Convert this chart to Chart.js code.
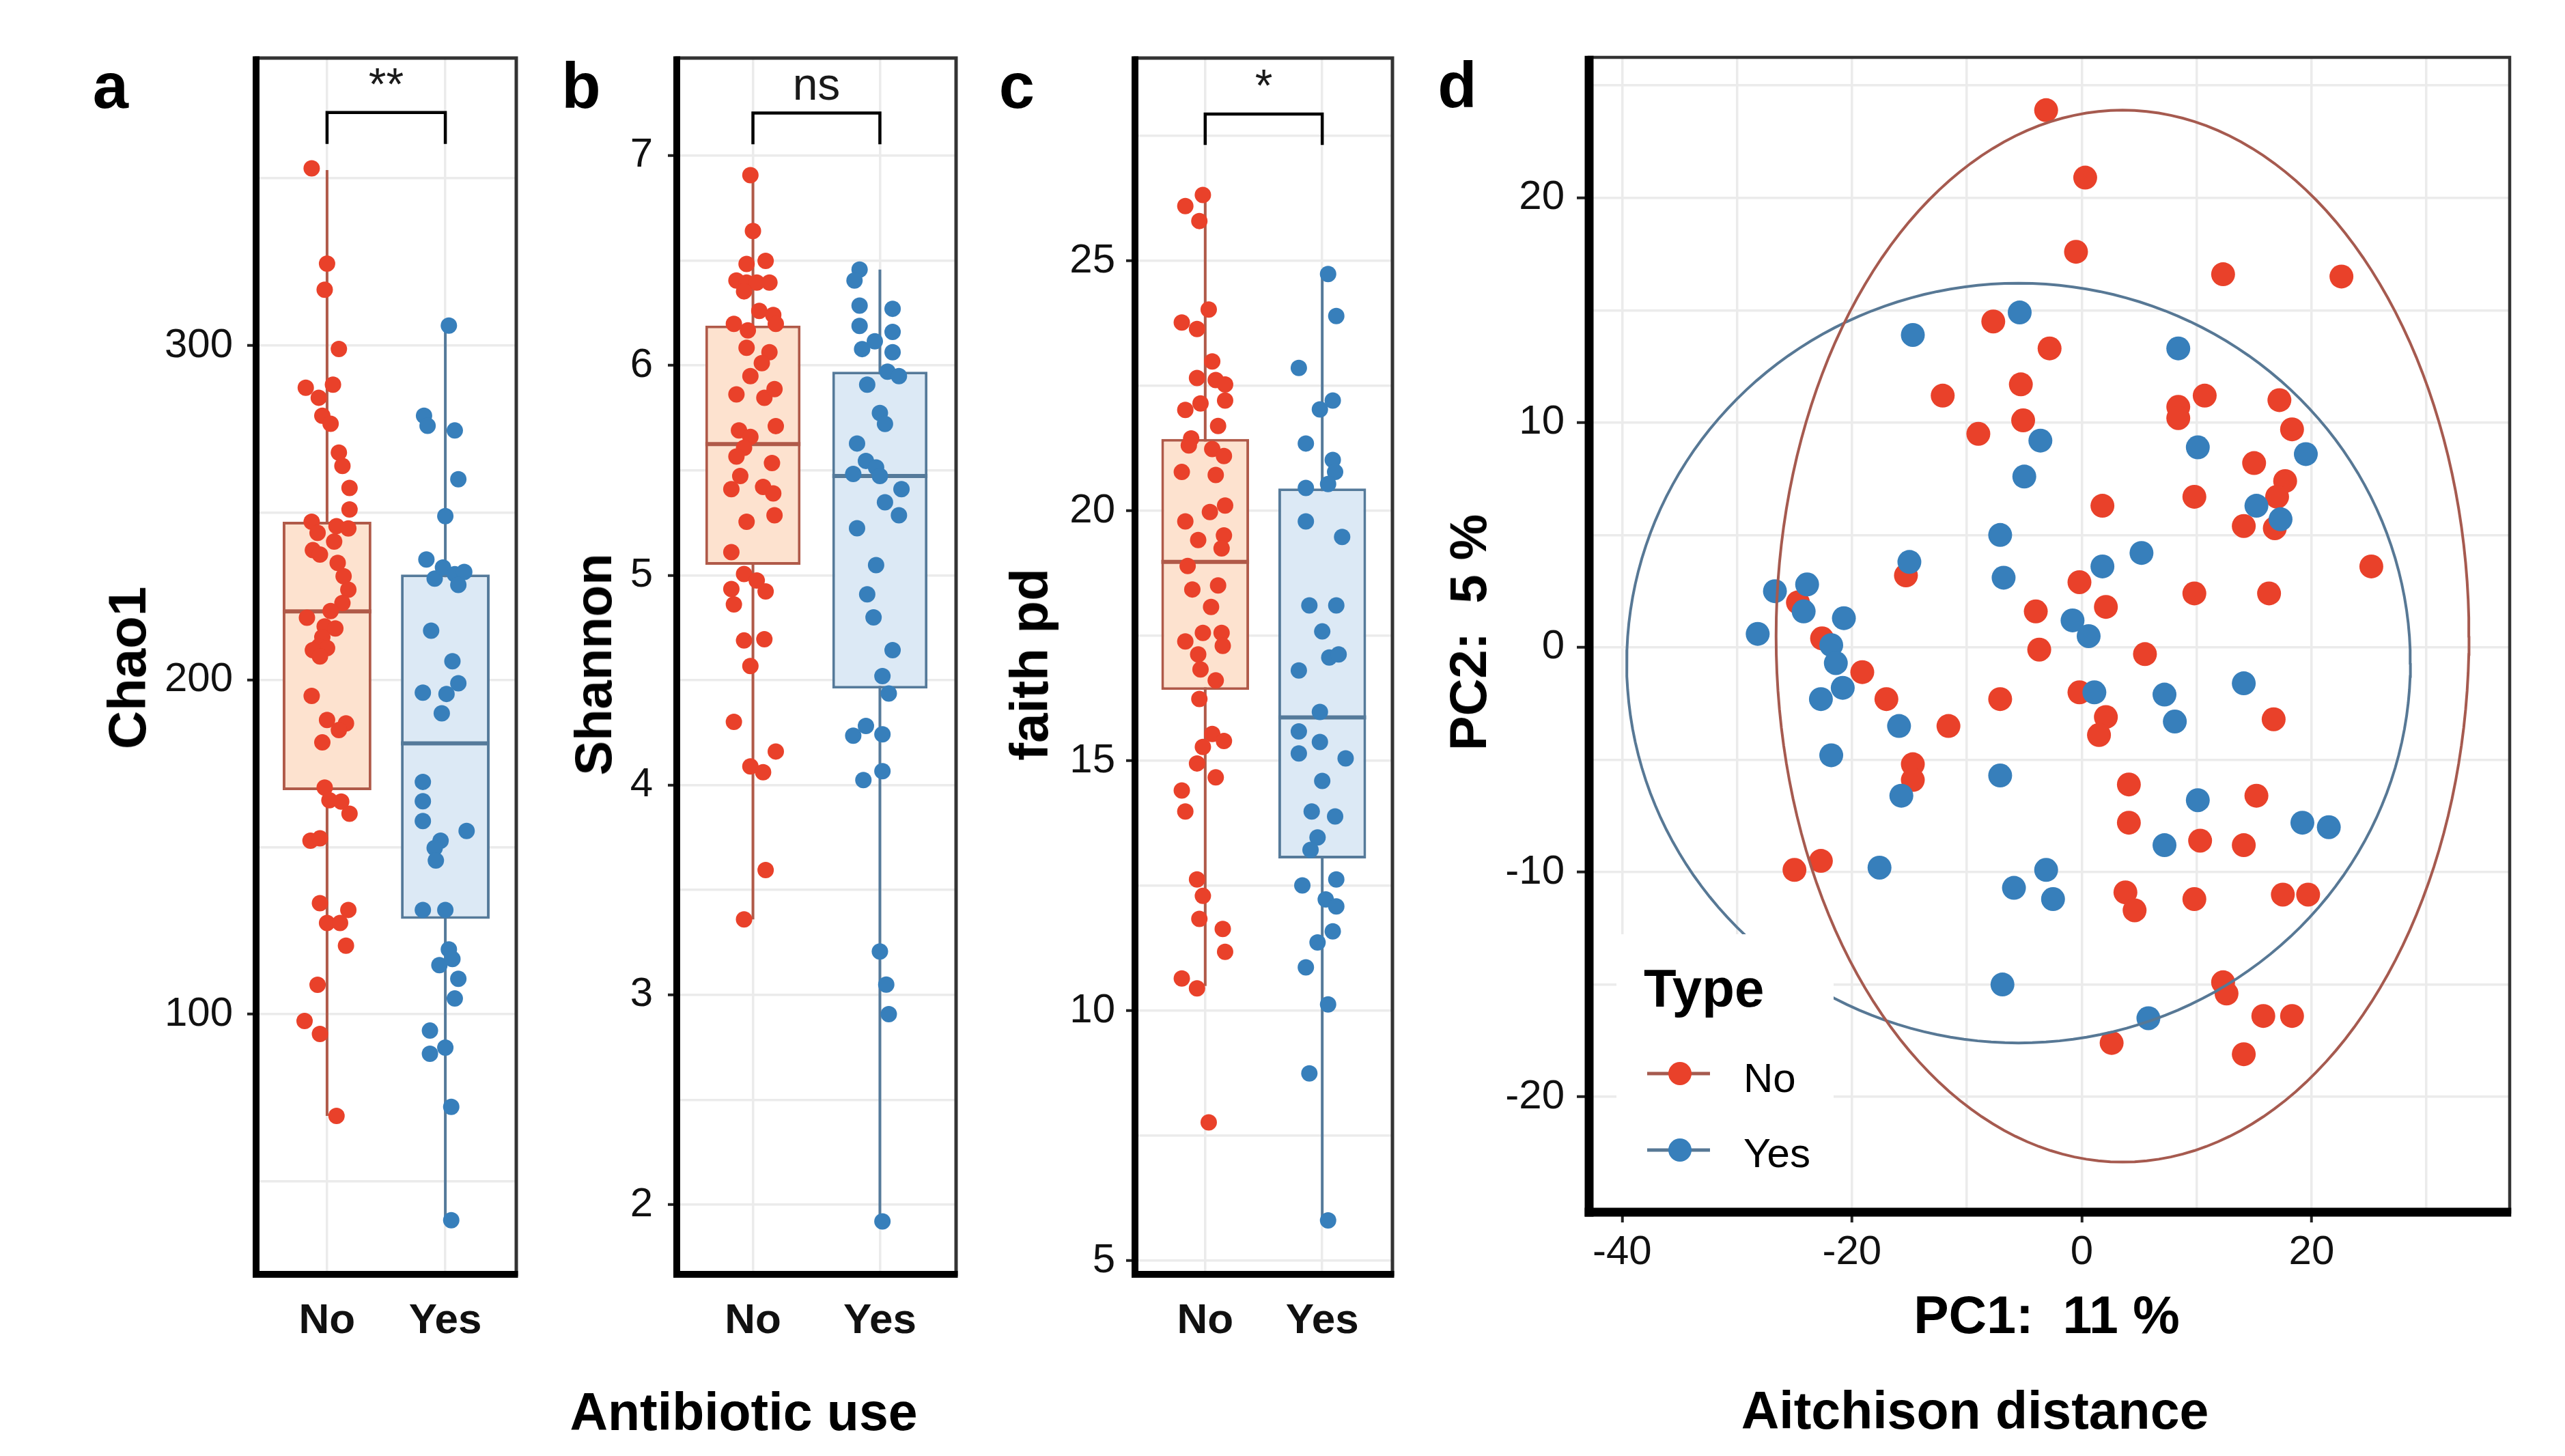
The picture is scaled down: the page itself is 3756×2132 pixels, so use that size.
<!DOCTYPE html>
<html>
<head>
<meta charset="utf-8">
<script src="https://cdn.jsdelivr.net/npm/chart.js@4.4.0/dist/chart.umd.min.js"></script>
<style>
  body { margin: 0; background: #fff; width: 3756px; height: 2132px; position: relative; overflow: hidden;
         font-family: "Liberation Sans", Arial, sans-serif; }
  canvas { position: absolute; top: 0; }
  .t { position: absolute; color: #000; white-space: pre; line-height: 1; font-weight: bold; transform: translate(-50%, -50%); }
  .r { transform: translate(-50%, -50%) rotate(-90deg); }
</style>
</head>
<body>
<canvas id="ca" width="790" height="2132" style="left:0px"></canvas>
<canvas id="cb" width="630" height="2132" style="left:790px"></canvas>
<canvas id="cc" width="640" height="2132" style="left:1420px"></canvas>
<canvas id="cd" width="1696" height="2132" style="left:2060px"></canvas>

<div class="t" style="left:162px;top:126px;font-size:94px">a</div>
<div class="t" style="left:851px;top:126px;font-size:94px">b</div>
<div class="t" style="left:1489px;top:126px;font-size:94px">c</div>
<div class="t" style="left:2134px;top:125px;font-size:94px">d</div>

<div class="t r" style="left:186px;top:978px;font-size:78px">Chao1</div>
<div class="t r" style="left:869px;top:973px;font-size:76px">Shannon</div>
<div class="t r" style="left:1507px;top:973px;font-size:78px">faith pd</div>
<div class="t r" style="left:2150px;top:926px;font-size:76px">PC2:  5 %</div>

<div class="t" style="left:1089px;top:2067px;font-size:77px">Antibiotic use</div>
<div class="t" style="left:2997px;top:1925px;font-size:77px">PC1:  11 %</div>
<div class="t" style="left:2892px;top:2065px;font-size:77px">Aitchison distance</div>

<script>
const FONT = "'Liberation Sans', Arial, sans-serif";

// groups on the discrete axis
const groups = ['No', 'Yes'];
const groupPos = [1, 2];

// panel a: Chao1, [jittered x, value]
const chaoNo = [[0.87,353],[1.0,324.5],[0.98,316.7],[1.1,299],[0.82,287.4],[1.05,288.3],[0.93,284.4],[0.96,279],[1.03,276.6],[1.1,268],
  [1.13,264],[1.19,257.4],[1.19,251],[0.87,247.3],[0.92,244],[1.08,246],[1.18,245.3],[1.06,241.4],[0.88,238.8],[0.94,237.5],
  [1.09,235],[1.14,231],[1.18,227],[1.13,223],[1.03,220.6],[0.83,218.6],[0.98,216],[1.07,215.4],[0.96,212.8],[0.93,210],
  [1.0,209.5],[0.88,208.9],[0.94,207],[0.87,195.2],[1.0,188],[1.16,187],[1.1,185],[0.96,181.3],[0.98,167.8],[1.02,164],
  [1.12,163.6],[1.19,160],[0.86,151.9],[0.94,152.6],[0.94,133.2],[1.18,131.2],[1.0,127.3],[1.11,127.3],[1.16,120.5],[0.92,108.8],
  [0.81,98],[0.94,94.1],[1.08,69.6]];
const chaoYes = [[2.03,306],[1.82,279],[1.85,276],[2.08,274.6],[2.11,260],[2.0,249],[1.84,236],[1.91,230.3],[1.98,233.6],[2.08,231.6],
  [2.16,232.3],[2.11,228.4],[1.88,214.7],[2.06,205.6],[2.11,199],[1.81,196.2],[2.01,195.8],[1.97,190],[1.81,169.5],[1.81,163.7],
  [1.81,157.8],[2.18,154.8],[1.96,151.9],[1.91,149.7],[1.92,146],[1.81,131.2],[2.0,131.2],[2.03,119.4],[1.95,114.7],[2.06,116.5],
  [2.11,110.6],[2.08,104.7],[1.87,95.1],[1.87,88.2],[2.0,90],[2.05,72.3],[2.05,38.4]];
// box stats: lower whisker, q1, median, q3, upper whisker
const chaoBoxNo = [69.6, 167, 220.5, 247.3, 352.5];
const chaoBoxYes = [38.4, 128.5, 181, 231.5, 306];
const chaoBracket = [360.3, 369.7];
const chaoTicks = [100, 200, 300];
const chaoMinor = [50, 150, 250, 350];

// panel b: Shannon
const shannonNo = [[0.98,6.907],[1.0,6.641],[0.95,6.484],[1.1,6.498],[0.87,6.405],[0.95,6.395],[1.03,6.395],[1.13,6.395],[0.93,6.353],[1.05,6.26],
  [1.16,6.24],[1.18,6.198],[0.85,6.198],[0.96,6.167],[0.95,6.084],[1.13,6.063],[1.07,6.011],[0.98,5.949],[0.87,5.862],[1.09,5.846],
  [1.17,5.887],[1.18,5.711],[0.89,5.69],[0.98,5.659],[0.93,5.607],[0.87,5.566],[1.15,5.535],[0.9,5.473],[0.83,5.41],[1.08,5.421],
  [1.16,5.39],[0.95,5.255],[1.17,5.286],[0.83,5.11],[0.93,5.006],[1.03,4.975],[1.1,4.923],[0.83,4.934],[0.85,4.861],[0.93,4.689],
  [1.09,4.695],[0.98,4.567],[0.85,4.301],[1.18,4.16],[0.98,4.089],[1.08,4.061],[1.1,3.595],[0.93,3.36]];
const shannonYes = [[1.84,6.457],[1.8,6.405],[1.84,6.285],[2.1,6.27],[1.84,6.188],[2.1,6.16],[1.86,6.078],[1.96,6.115],[2.1,6.063],[2.06,5.97],
  [2.15,5.949],[1.9,5.908],[2.0,5.773],[2.04,5.721],[1.82,5.628],[1.89,5.545],[1.97,5.514],[1.79,5.483],[2.0,5.473],[2.17,5.41],
  [2.04,5.348],[2.15,5.286],[1.82,5.224],[1.97,5.048],[1.9,4.909],[1.95,4.799],[2.1,4.643],[2.02,4.519],[2.07,4.436],[1.79,4.235],
  [1.89,4.282],[2.02,4.242],[2.02,4.066],[1.87,4.024],[2.0,3.207],[2.05,3.049],[2.07,2.908],[2.02,1.92]];
const shannonBoxNo = [3.36, 5.05, 5.625, 6.19, 6.907];
const shannonBoxYes = [1.92, 4.46, 5.473, 5.97, 6.457];
const shannonBracket = [7.054, 7.203];
const shannonTicks = [2, 3, 4, 5, 6, 7];
const shannonMinor = [2.5, 3.5, 4.5, 5.5, 6.5];

// panel c: faith pd
const faithNo = [[0.98,26.32],[0.83,26.1],[0.95,25.8],[1.03,24.03],[0.8,23.77],[0.93,23.64],[1.06,22.99],[0.93,22.66],[1.09,22.62],[1.17,22.53],
  [1.17,22.21],[0.83,22.02],[0.96,22.15],[1.11,21.7],[0.88,21.45],[0.86,21.31],[1.06,21.24],[1.16,21.1],[0.8,20.78],[1.09,20.72],
  [1.17,20.11],[1.04,19.98],[0.83,19.79],[0.94,19.42],[1.16,19.51],[1.14,19.25],[0.85,18.9],[0.89,18.43],[1.11,18.51],[1.05,18.08],
  [0.98,17.56],[0.83,17.39],[1.14,17.56],[1.15,17.3],[0.94,17.13],[0.96,16.83],[1.09,16.61],[0.95,16.24],[1.06,15.54],[1.16,15.4],
  [0.98,15.28],[0.93,14.95],[1.09,14.67],[0.8,14.41],[0.83,13.99],[0.93,12.63],[0.98,12.3],[0.95,11.84],[1.15,11.64],[1.17,11.18],
  [0.8,10.65],[0.93,10.45],[1.03,7.77]];
const faithYes = [[2.05,24.74],[2.12,23.9],[1.8,22.86],[2.09,22.21],[1.98,22.03],[1.86,21.35],[2.09,21.02],[2.11,20.78],[2.05,20.54],[1.86,20.46],
  [1.86,19.79],[2.17,19.48],[1.89,18.11],[2.12,18.11],[2.0,17.59],[1.8,16.81],[2.06,17.07],[2.14,17.13],[1.98,15.98],[1.8,15.59],
  [1.8,15.15],[1.98,15.38],[2.2,15.05],[2.0,14.6],[1.91,13.99],[2.11,13.89],[1.96,13.47],[1.9,13.22],[1.83,12.51],[2.12,12.63],
  [2.03,12.23],[2.12,12.09],[2.09,11.59],[1.96,11.37],[1.86,10.87],[2.05,10.13],[1.89,8.75],[2.05,5.81]];
const faithBoxNo = [10.5, 16.42, 18.98, 21.44, 26.4];
const faithBoxYes = [5.81, 13.05, 15.87, 20.45, 24.74];
const faithBracket = [27.32, 27.94];
const faithTicks = [5, 10, 15, 20, 25];
const faithMinor = [7.5, 12.5, 17.5, 22.5, 27.5];

// panel d: PCA on Aitchison distance, [PC1, PC2]
const pcaNo = [[-3.1,23.9],[0.3,20.9],[-0.5,17.6],[12.3,16.6],[22.6,16.5],[-7.7,14.5],[-2.8,13.3],[-12.1,11.2],[-5.3,11.7],[-5.1,10.1],
  [-9.0,9.5],[10.7,11.2],[8.4,10.7],[8.4,10.2],[17.2,11.0],[18.3,9.7],[15.0,8.2],[17.7,7.4],[17.0,6.7],[9.8,6.7],
  [14.1,5.4],[16.8,5.3],[1.8,6.3],[-15.3,3.2],[-0.2,2.9],[25.2,3.6],[9.8,2.4],[16.3,2.4],[-4.0,1.6],[2.1,1.8],
  [-24.7,2.0],[-22.6,0.4],[-3.7,-0.1],[5.5,-0.3],[-19.1,-1.1],[-17.0,-2.3],[-11.6,-3.5],[-14.7,-5.2],[-14.7,-5.9],[-7.1,-2.3],
  [-0.2,-2.0],[2.1,-3.1],[1.5,-3.9],[16.7,-3.2],[4.1,-6.1],[15.2,-6.6],[4.1,-7.8],[10.3,-8.6],[14.1,-8.8],[3.8,-10.9],
  [4.6,-11.7],[9.8,-11.2],[17.5,-11.0],[19.7,-11.0],[12.3,-14.9],[12.6,-15.4],[15.8,-16.4],[18.3,-16.4],[2.6,-17.6],[14.1,-18.1],
  [-25.0,-9.9],[-22.7,-9.5]];
const pcaYes = [[-14.7,13.9],[-5.4,14.9],[8.4,13.3],[-7.1,5.0],[-15.0,3.8],[-6.8,3.1],[-26.7,2.5],[-23.9,2.8],[-24.2,1.6],[-20.7,1.3],
  [-28.2,0.6],[-21.8,0.1],[-21.4,-0.7],[-20.8,-1.8],[-22.7,-2.3],[-15.9,-3.5],[-21.8,-4.8],[-15.7,-6.6],[-7.1,-5.7],[-17.6,-9.8],
  [-6.9,-15.0],[-3.6,9.2],[-5.0,7.6],[10.1,8.9],[19.5,8.6],[15.2,6.3],[17.3,5.7],[5.2,4.2],[1.8,3.6],[-0.8,1.2],
  [0.6,0.5],[1.1,-2.0],[7.2,-2.1],[14.1,-1.6],[8.1,-3.3],[10.1,-6.8],[19.2,-7.8],[21.5,-8.0],[7.2,-8.8],[-3.1,-9.9],
  [-5.9,-10.7],[-2.5,-11.2],[5.8,-16.5]];
// 95% ellipses: centre x, centre y, half-width, half-height
const ellipseNo = [3.55, 0.5, 30.15, 23.4];
const ellipseYes = [-5.5, -0.7, 34.1, 16.9];
const pcaXTicks = [-40, -20, 0, 20];
const pcaXMinor = [-30, -10, 10, 30];
const pcaYTicks = [-20, -10, 0, 10, 20];
const pcaYMinor = [-25, -15, -5, 5, 15, 25];

// styles
const RED = '#E9412A', BLUE = '#377FBB';
const RED_LINE = '#B05A49', BLUE_LINE = '#557A9A';
const RED_FILL = '#FDE2CF', BLUE_FILL = '#DCE9F5';
const ELL_RED = '#A65A4F', ELL_BLUE = '#577895';
const GRID = '#EBEBEB';
const BOX_WIDTH = 0.75;

function pts(arr) { return arr.map(p => ({x: p[0], y: p[1]})); }

function ellipse(e) {
  const out = [];
  for (let i = 0; i <= 180; i++) {
    const t = i / 180 * 2 * Math.PI;
    out.push({x: e[0] + e[2] * Math.cos(t), y: e[1] + e[3] * Math.sin(t)});
  }
  return out;
}

function drawLegend(chart) {
  const {ctx, chartArea: a} = chart;
  const L = a.left, B = a.bottom;
  ctx.fillStyle = '#fff';
  ctx.fillRect(L + 40, B - 407, 318, 405);
  ctx.fillStyle = '#000';
  ctx.textAlign = 'left';
  ctx.textBaseline = 'alphabetic';
  ctx.font = 'bold 78px ' + FONT;
  ctx.fillText('Type', L + 80, B - 301);
  const rows = [[B - 203, B - 176], [B - 91, B - 66]];
  const lineCols = [ELL_RED, ELL_BLUE], dotCols = [RED, BLUE];
  groups.forEach((g, i) => {
    const [ly, ty] = rows[i];
    ctx.strokeStyle = lineCols[i];
    ctx.lineWidth = 5;
    ctx.beginPath(); ctx.moveTo(L + 85, ly); ctx.lineTo(L + 177, ly); ctx.stroke();
    ctx.fillStyle = dotCols[i];
    ctx.beginPath(); ctx.arc(L + 133, ly, 17, 0, Math.PI * 2); ctx.fill();
    ctx.fillStyle = '#000';
    ctx.font = '60px ' + FONT;
    ctx.fillText(g, L + 226, ty);
  });
}

const framePlugin = {
  id: 'frame',
  afterDatasetsDraw(chart, args, o) {
    const {ctx, chartArea: a} = chart;
    ctx.save();
    if (o.sig) {
      ctx.font = '66px ' + FONT;
      ctx.fillStyle = '#1a1a1a';
      ctx.textAlign = 'center';
      ctx.textBaseline = 'alphabetic';
      ctx.fillText(o.sig, chart.scales.x.getPixelForValue((groupPos[0] + groupPos[1]) / 2),
        chart.scales.y.getPixelForValue(o.bracket[1]) - 19);
    }
    if (o.legend) drawLegend(chart);
    ctx.strokeStyle = '#333';
    ctx.lineWidth = o.thin;
    ctx.strokeRect(a.left, a.top, a.right - a.left, a.bottom - a.top);
    ctx.fillStyle = '#000';
    const w = o.thick;
    ctx.fillRect(a.left - w / 2, a.top - o.thin / 2, w, a.bottom - a.top + w / 2 + o.thin / 2);
    ctx.fillRect(a.left - w / 2, a.bottom - w / 2, a.right - a.left + w / 2 + o.thin / 2, w);
    ctx.restore();
  }
};

function axis(o) {
  const all = o.major.concat(o.minor).sort((a, b) => a - b);
  return {
    type: 'linear', min: o.min, max: o.max, offset: false, beginAtZero: false, grace: 0,
    afterBuildTicks: s => { s.ticks = all.map(v => ({value: v})); },
    afterFit: s => {
      if (o.width != null) s.width = o.width;
      if (o.height != null) s.height = o.height;
    },
    ticks: {
      autoSkip: false, maxRotation: 0, minRotation: 0, padding: o.pad, color: '#111',
      font: {family: FONT, size: o.size || 60, weight: o.bold ? 'bold' : 'normal'},
      callback: v => o.major.includes(v) ? (o.labels ? o.labels[o.major.indexOf(v)] : String(v)) : ''
    },
    grid: {
      color: GRID, lineWidth: 3.5, offset: false, drawTicks: o.tickLen > 0, tickLength: o.tickLen, tickWidth: 4,
      tickColor: c => (c.tick && o.major.includes(c.tick.value)) ? '#222' : 'rgba(0,0,0,0)'
    },
    border: {display: false}
  };
}

function boxPanel(id, c) {
  const half = BOX_WIDTH / 2;
  const datasets = [
    {type: 'line', data: [{x: groupPos[0], y: c.bracket[0]}, {x: groupPos[0], y: c.bracket[1]},
      {x: groupPos[1], y: c.bracket[1]}, {x: groupPos[1], y: c.bracket[0]}],
      borderColor: '#000', borderWidth: 4.5, pointRadius: 0, order: 0},
    {type: 'scatter', data: pts(c.no), backgroundColor: RED, pointRadius: 12, borderWidth: 0, order: 0},
    {type: 'scatter', data: pts(c.yes), backgroundColor: BLUE, pointRadius: 12, borderWidth: 0, order: 0}
  ];
  [[c.boxNo, RED_FILL, RED_LINE], [c.boxYes, BLUE_FILL, BLUE_LINE]].forEach(([b, fill, line], i) => {
    const p = groupPos[i];
    datasets.push(
      {type: 'line', data: [{x: p, y: b[0]}, {x: p, y: b[4]}], borderColor: line, borderWidth: 4, pointRadius: 0, order: 3},
      {type: 'bar', data: [{x: p, y: [b[1], b[3]]}], backgroundColor: fill, borderColor: line, borderWidth: 4,
        borderSkipped: false, grouped: false, barPercentage: BOX_WIDTH, categoryPercentage: 1, order: 2},
      {type: 'line', data: [{x: p - half, y: b[2]}, {x: p + half, y: b[2]}], borderColor: line, borderWidth: 6,
        pointRadius: 0, order: 1}
    );
  });
  return new Chart(document.getElementById(id), {
    type: 'scatter',
    data: {datasets},
    options: {
      responsive: false, animation: false, events: [],
      layout: {padding: {top: 85, right: c.padRight, left: 0, bottom: 0}},
      plugins: {legend: {display: false}, tooltip: {enabled: false},
        frame: {thin: 5, thick: 10, sig: c.sig, bracket: c.bracket}},
      scales: {
        x: axis({min: 0.4, max: 2.6, major: groupPos, minor: [], labels: groups, tickLen: 0, pad: 32,
          size: 62, bold: true, height: 2132 - 1866}),
        y: axis({min: c.min, max: c.max, major: c.major, minor: c.minor, tickLen: 13, pad: c.tickPad, width: c.yWidth})
      }
    },
    plugins: [framePlugin]
  });
}

boxPanel('ca', {no: chaoNo, yes: chaoYes, boxNo: chaoBoxNo, boxYes: chaoBoxYes, bracket: chaoBracket, sig: '**',
  min: 22.2, max: 386, major: chaoTicks, minor: chaoMinor, yWidth: 375, padRight: 34, tickPad: 21});
boxPanel('cb', {no: shannonNo, yes: shannonYes, boxNo: shannonBoxNo, boxYes: shannonBoxYes, bracket: shannonBracket, sig: 'ns',
  min: 1.668, max: 7.465, major: shannonTicks, minor: shannonMinor, yWidth: 201, padRight: 20, tickPad: 22});
boxPanel('cc', {no: faithNo, yes: faithYes, boxNo: faithBoxNo, boxYes: faithBoxYes, bracket: faithBracket, sig: '*',
  min: 4.73, max: 29.06, major: faithTicks, minor: faithMinor, yWidth: 242, padRight: 21, tickPad: 16});

new Chart(document.getElementById('cd'), {
  type: 'scatter',
  data: {
    datasets: [
      {type: 'line', data: ellipse(ellipseNo), borderColor: ELL_RED, borderWidth: 4, pointRadius: 0, tension: 0, order: 0},
      {type: 'line', data: ellipse(ellipseYes), borderColor: ELL_BLUE, borderWidth: 4, pointRadius: 0, tension: 0, order: 0},
      {label: groups[1], data: pts(pcaYes), backgroundColor: BLUE, pointRadius: 17.5, borderWidth: 0, order: 1},
      {label: groups[0], data: pts(pcaNo), backgroundColor: RED, pointRadius: 17.5, borderWidth: 0, order: 2}
    ]
  },
  options: {
    responsive: false, animation: false, events: [],
    layout: {padding: {top: 84, right: 81, left: 0, bottom: 0}},
    plugins: {legend: {display: false}, tooltip: {enabled: false}, frame: {thin: 4.5, thick: 13, legend: true}},
    scales: {
      x: axis({min: -42.87, max: 37.24, major: pcaXTicks, minor: pcaXMinor, tickLen: 15, pad: 8, height: 2132 - 1775}),
      y: axis({min: -25.13, max: 26.25, major: pcaYTicks, minor: pcaYMinor, tickLen: 18, pad: 18, width: 267})
    }
  },
  plugins: [framePlugin]
});
</script>
</body>
</html>
